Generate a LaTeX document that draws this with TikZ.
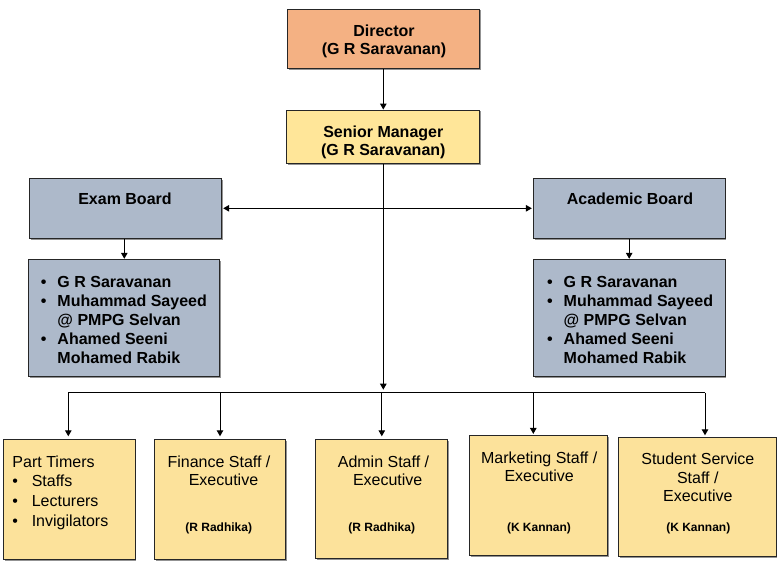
\documentclass[tikz,border=0pt]{standalone}
\usepackage{fontspec}
\setmainfont{Liberation Sans}
\usetikzlibrary{arrows.meta,shadows}
\definecolor{dirfill}{HTML}{F4B183}
\definecolor{smfill}{HTML}{FFE699}
\definecolor{boardfill}{HTML}{ADB9CA}
\definecolor{stafffill}{HTML}{FCE29B}
\newcommand\stack[2]{\begin{tabular}[t]{@{}#1@{}}#2\end{tabular}}
\begin{document}
\begin{tikzpicture}[x=1pt,y=-1pt,
  box/.style={draw=black!85,line width=1pt,inner sep=0pt,
    drop shadow={shadow xshift=1.3pt,shadow yshift=-1.3pt,fill=black!60,opacity=0.7}},
  dirbox/.style={box,fill=dirfill},
  smbox/.style={box,fill=smfill},
  boardbox/.style={box,fill=boardfill},
  staffbox/.style={box,fill=stafffill},
  txt/.style={inner sep=0pt,anchor=base},
  bold/.style={txt,font=\fontsize{16}{18}\selectfont\bfseries},
  listtxt/.style={txt,font=\fontsize{16}{18.8}\selectfont\bfseries},
  reg/.style={txt,font=\fontsize{16}{18.5}\selectfont},
  small/.style={txt,font=\fontsize{12}{14}\selectfont\bfseries},
  arr/.style={line width=1pt,-{Triangle[length=6pt,width=6.5pt]}},
  arrb/.style={line width=1pt,{Triangle[length=6pt,width=6.5pt]}-{Triangle[length=6pt,width=6.5pt]}},
  line/.style={line width=1pt}
]
\useasboundingbox (0,0) rectangle (780,561);
\fill[white] (0,0) rectangle (780,561);

% boxes
\node[dirbox,minimum width=192pt,minimum height=59.3pt] (dir) at (383.3,38.7) {};
\node[smbox,minimum width=193.3pt,minimum height=53.3pt] (sm) at (383.3,136.7) {};
\node[boardbox,minimum width=192.4pt,minimum height=60pt] (exam) at (125.5,208.3) {};
\node[boardbox,minimum width=191.3pt,minimum height=117.4pt] (exammem) at (124.3,318) {};
\node[boardbox,minimum width=191.7pt,minimum height=60pt] (acad) at (629.2,208.3) {};
\node[boardbox,minimum width=191.7pt,minimum height=117.4pt] (acadmem) at (629.2,318) {};
\node[staffbox,minimum width=131.7pt,minimum height=120pt] (pt) at (69.2,499.3) {};
\node[staffbox,minimum width=131.4pt,minimum height=120pt] (fin) at (220,499.3) {};
\node[staffbox,minimum width=131.7pt,minimum height=119pt] (adm) at (381.8,498.8) {};
\node[staffbox,minimum width=138pt,minimum height=119.7pt] (mkt) at (538.3,495.8) {};
\node[staffbox,minimum width=157.7pt,minimum height=119.4pt] (stu) at (697.2,497) {};

% texts
\node[bold] (dirt) at (384,37) {\stack{c}{Director\\(G R Saravanan)}};
\node[bold] (smt) at (383.3,138) {\stack{c}{Senior Manager\\(G R Saravanan)}};
\node[bold] (examt) at (125,205) {Exam Board};
\node[bold] (acadt) at (630,205) {Academic Board};
\node[listtxt,anchor=base west] (exammemt) at (40.8,288) {\stack{p{16.5pt}@{}l}{%
  • & G R Saravanan\\ • & Muhammad Sayeed\\ & @ PMPG Selvan\\ • & Ahamed Seeni\\ & Mohamed Rabik}};
\node[listtxt,anchor=base west] (acadmemt) at (547,288) {\stack{p{16.5pt}@{}l}{%
  • & G R Saravanan\\ • & Muhammad Sayeed\\ & @ PMPG Selvan\\ • & Ahamed Seeni\\ & Mohamed Rabik}};
\node[txt,anchor=base west,font=\fontsize{16}{19.7}\selectfont] (ptt) at (12.3,467.3) {\stack{p{19.3pt}@{}l}{%
  \multicolumn{2}{@{}l@{}}{Part Timers}\\ • & Staffs\\ • & Lecturers\\ • & Invigilators}};
\node[reg] (fint) at (219,467.3) {\stack{c}{Finance Staff /\\\hspace{9pt}Executive}};
\node[reg] (admt) at (383.5,467.3) {\stack{c}{Admin Staff /\\\hspace{8.4pt}Executive}};
\node[reg,font=\fontsize{16}{18.4}\selectfont] (mktt) at (539.2,463.3) {\stack{c}{Marketing Staff /\\Executive}};
\node[reg,font=\fontsize{16}{18.3}\selectfont] (stut) at (697.8,465) {\stack{c}{Student Service\\Staff /\\Executive}};
\node[small] (finn) at (218.7,531.7) {(R Radhika)};
\node[small] (admn) at (381.7,531.7) {(R Radhika)};
\node[small] (mktn) at (539,531.7) {(K Kannan)};
\node[small] (stun) at (698.3,531.7) {(K Kannan)};

% connectors
\coordinate (busL) at (68.3,392.7);
\coordinate (busR) at (705,392.7);
\coordinate (busM) at (533.3,392.7);
\draw[arr] (dir.south) -- (sm.north);
\draw[arr,shorten >=3pt] (sm.south) -- (sm.south |- busL);
\draw[arrb,shorten <=1pt,shorten >=1pt] (exam.east) -- (acad.west);
\draw[arr] (exammem.north |- exam.south) -- (exammem.north);
\draw[arr] (acad.south) -- (acadmem.north);
\draw[line] (busL) -- (busR);
\draw[arr,shorten >=2.5pt] (busL) -- (busL |- pt.north);
\draw[arr,shorten >=2.5pt] (fin.north |- busL) -- (fin.north);
\draw[arr,shorten >=2.5pt] (adm.north |- busL) -- (adm.north);
\draw[arr,shorten >=1.5pt] (busM) -- (busM |- mkt.north);
\draw[arr,shorten >=1.5pt] (busR) -- (busR |- stu.north);
\end{tikzpicture}
\end{document}
